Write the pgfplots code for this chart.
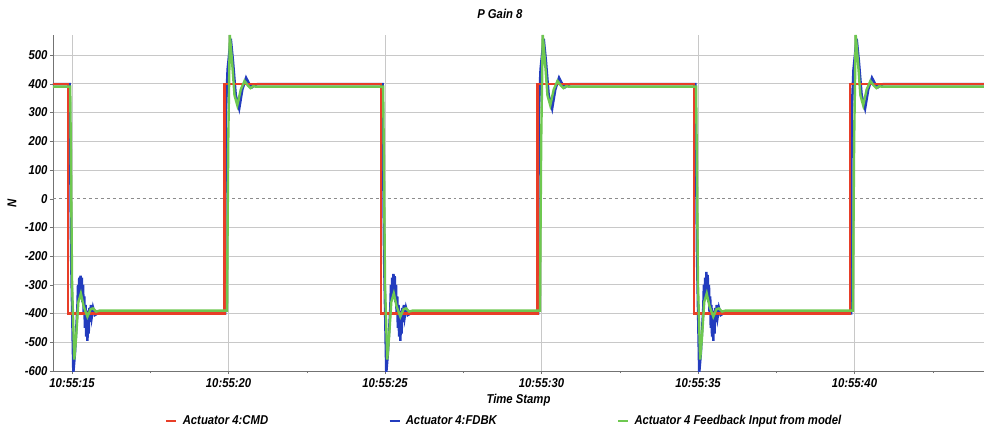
\documentclass[border=0pt]{standalone}
\usepackage{fontspec}
\setmainfont{Liberation Sans}[FakeStretch=0.88]
\usepackage{pgfplots}
\pgfplotsset{compat=1.18}
\definecolor{cmdred}{RGB}{232,62,40}
\definecolor{fbblue}{RGB}{35,60,190}
\definecolor{mdgreen}{RGB}{110,200,80}
\definecolor{gridgray}{RGB}{200,200,200}
\newcommand{\chartfont}{\fontsize{12.9}{14}\selectfont\bfseries\itshape}
\begin{document}
\begin{tikzpicture}
\begin{axis}[
  name=ax,
  scale only axis,
  width=931bp, height=336bp,
  xmin=14.39, xmax=44.14,
  ymin=-600, ymax=570,
  axis x line=bottom, axis y line=left,
  axis line style={draw=black!55, -, line width=0.8bp},
  tick style={draw=black!55},
  major tick length=3bp, minor tick length=2bp,
  tick align=outside,
  xtick={15,20,25,30,35,40},
  xticklabels={10:55:15,10:55:20,10:55:25,10:55:30,10:55:35,10:55:40},
  minor xtick={17.5,22.5,27.5,32.5,37.5,42.5},
  ytick={-600,-500,-400,-300,-200,-100,100,200,300,400,500},
  yticklabels={-600,-500,-400,-300,-200,-100,100,200,300,400,500},
  extra y ticks={0}, extra y tick labels={0},
  extra y tick style={grid style={draw=black!45, dashed, line width=0.6bp}},
  grid=major,
  grid style={draw=gridgray, line width=0.7bp},
  ticklabel style={font=\chartfont},
  yticklabel style={xshift=1bp},
  xticklabel style={yshift=-1bp},
  title={P Gain 8},
  title style={at={(axis description cs:0.48,1.045)}, anchor=center, font=\chartfont},
  xlabel={Time Stamp},
  xlabel style={at={(axis description cs:0.5,-0.0865)}, anchor=center, font=\chartfont},
  ylabel={N},
  ylabel style={at={(axis description cs:-0.044,0.5)}, anchor=center, font=\chartfont},
  legend columns=3,
  legend style={at={(axis description cs:0.1203,-0.149)}, anchor=west, draw=none, fill=none, inner sep=0pt,
    font=\chartfont,
    /tikz/every odd column/.append style={column sep=3bp},
    /tikz/every even column/.append style={column sep=118bp}},
  legend cell align=left,
  legend image code/.code={\draw[#1, line width=2.6bp] (0bp,0bp) -- (10bp,0bp);},
]
\addlegendimage{cmdred}
\addlegendentry{Actuator 4:CMD}
\addlegendimage{fbblue}
\addlegendentry{Actuator 4:FDBK}
\addlegendimage{mdgreen}
\addlegendentry{Actuator 4 Feedback Input from model}
% Actuator 4:FDBK
\addplot[fbblue, line width=2.5bp, forget plot] coordinates {
(14.39,399)
(14.92,399) (14.97,-200) (15.04,-605) (15.09,-540) (15.15,-420) (15.17,-380) (15.19,-300)
(15.21,-350) (15.23,-275) (15.25,-330) (15.27,-268) (15.29,-340) (15.31,-275) (15.33,-360)
(15.35,-300) (15.37,-400) (15.39,-340) (15.41,-450) (15.43,-370) (15.45,-480) (15.47,-390)
(15.49,-495) (15.51,-400) (15.53,-470) (15.55,-380) (15.57,-430) (15.60,-370) (15.63,-410)
(15.67,-380) (15.73,-405) (15.82,-399)
(19.89,-399) (19.91,290) (19.97,450) (20.07,557) (20.14,480) (20.23,360) (20.34,314)
(20.44,380) (20.56,421) (20.66,400) (20.75,388) (20.83,395) (20.92,399)
(24.92,399) (24.97,-200) (25.04,-605) (25.09,-540) (25.15,-420) (25.17,-380) (25.19,-300)
(25.21,-350) (25.23,-275) (25.25,-330) (25.27,-262) (25.29,-340) (25.31,-270) (25.33,-360)
(25.35,-300) (25.37,-400) (25.39,-340) (25.41,-450) (25.43,-370) (25.45,-480) (25.47,-390)
(25.49,-495) (25.51,-400) (25.53,-470) (25.55,-380) (25.57,-430) (25.60,-370) (25.63,-410)
(25.67,-380) (25.73,-405) (25.82,-399)
(29.89,-399) (29.91,290) (29.97,450) (30.07,557) (30.14,480) (30.23,360) (30.34,314)
(30.44,380) (30.56,421) (30.66,400) (30.75,388) (30.83,395) (30.92,399)
(34.92,399) (34.97,-200) (35.04,-605) (35.09,-540) (35.15,-420) (35.17,-380) (35.19,-300)
(35.21,-350) (35.23,-275) (35.25,-330) (35.27,-255) (35.29,-340) (35.31,-265) (35.33,-360)
(35.35,-300) (35.37,-400) (35.39,-340) (35.41,-450) (35.43,-370) (35.45,-480) (35.47,-390)
(35.49,-495) (35.51,-400) (35.53,-470) (35.55,-380) (35.57,-430) (35.60,-370) (35.63,-410)
(35.67,-380) (35.73,-405) (35.82,-399)
(39.89,-399) (39.91,290) (39.97,450) (40.07,557) (40.14,480) (40.23,360) (40.34,314)
(40.44,380) (40.56,421) (40.66,400) (40.75,388) (40.83,395) (40.92,399)
(44.14,399)
};
% Actuator 4:CMD
\addplot[cmdred, line width=2.2bp, forget plot] coordinates {
(14.39,400) (14.87,400) (14.87,-400) (19.87,-400) (19.87,400) (24.87,400) (24.87,-400)
(29.87,-400) (29.87,400) (34.87,400) (34.87,-400) (39.87,-400) (39.87,400) (44.14,400)
};
% Actuator 4 Feedback Input from model
\addplot[mdgreen, line width=2.4bp, forget plot] coordinates {
(14.39,390)
(14.94,390) (15.00,-300) (15.07,-560) (15.13,-480) (15.20,-360) (15.28,-330) (15.37,-375)
(15.49,-411) (15.59,-385) (15.67,-382) (15.77,-393) (15.87,-390)
(19.95,-390) (19.99,200) (20.04,570) (20.11,480) (20.19,360) (20.28,325) (20.39,380)
(20.51,410) (20.61,395) (20.70,385) (20.79,392) (20.87,390)
(24.94,390) (25.00,-300) (25.07,-560) (25.13,-480) (25.20,-360) (25.28,-330) (25.37,-375)
(25.49,-411) (25.59,-385) (25.67,-382) (25.77,-393) (25.87,-390)
(29.95,-390) (29.99,200) (30.04,570) (30.11,480) (30.19,360) (30.28,325) (30.39,380)
(30.51,410) (30.61,395) (30.70,385) (30.79,392) (30.87,390)
(34.94,390) (35.00,-300) (35.07,-560) (35.13,-480) (35.20,-360) (35.28,-330) (35.37,-375)
(35.49,-411) (35.59,-385) (35.67,-382) (35.77,-393) (35.87,-390)
(39.95,-390) (39.99,200) (40.04,570) (40.11,480) (40.19,360) (40.28,325) (40.39,380)
(40.51,410) (40.61,395) (40.70,385) (40.79,392) (40.87,390)
(44.14,390)
};
\end{axis}
\pgfresetboundingbox
\path[use as bounding box] ([shift={(-53bp,-62bp)}]ax.south west) rectangle ([shift={(0bp,35bp)}]ax.north east);
\end{tikzpicture}
\end{document}
